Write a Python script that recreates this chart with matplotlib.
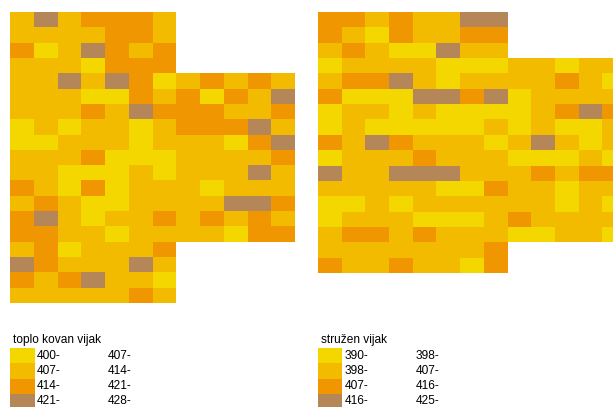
import numpy as np
import matplotlib
matplotlib.use('Agg')
import matplotlib.pyplot as plt
from matplotlib.colors import ListedColormap

plt.rcParams['font.family'] = ['Liberation Sans', 'DejaVu Sans']

W, H = 613, 407

# class index per cell, 0 = lowest class, rows from the top
left_cells = [
    [1, 3, 1, 2, 2, 2, 1],
    [1, 1, 1, 1, 2, 2, 1],
    [2, 0, 1, 3, 2, 1, 2],
    [1, 1, 1, 0, 2, 2, 2],
    [1, 1, 3, 1, 3, 2, 0, 1, 2, 1, 2, 1],
    [1, 1, 1, 0, 0, 2, 1, 2, 0, 2, 1, 3],
    [1, 1, 1, 2, 1, 3, 2, 2, 2, 1, 1, 2],
    [0, 1, 0, 1, 1, 0, 1, 2, 2, 2, 3, 1],
    [0, 0, 1, 1, 1, 0, 1, 1, 1, 0, 2, 3],
    [1, 1, 1, 2, 0, 0, 0, 1, 1, 1, 1, 2],
    [1, 1, 0, 0, 0, 1, 0, 1, 1, 1, 3, 1],
    [2, 1, 0, 2, 0, 1, 1, 1, 0, 1, 1, 1],
    [1, 2, 1, 0, 0, 1, 1, 1, 1, 3, 3, 2],
    [2, 3, 1, 0, 1, 1, 2, 1, 2, 1, 2, 1],
    [2, 2, 1, 1, 0, 1, 1, 1, 1, 0, 2, 2],
    [1, 2, 0, 1, 1, 1, 2],
    [3, 2, 1, 1, 1, 3, 1],
    [2, 1, 2, 3, 1, 1, 0],
    [1, 1, 1, 1, 1, 2, 1],
]
right_cells = [
    [2, 2, 1, 2, 1, 1, 3, 3],
    [2, 1, 0, 2, 1, 1, 2, 2],
    [1, 2, 1, 0, 0, 3, 1, 1],
    [0, 1, 1, 1, 1, 0, 0, 0, 1, 1, 0, 1, 1],
    [1, 2, 2, 3, 1, 0, 1, 1, 1, 1, 2, 1, 0],
    [2, 0, 0, 0, 3, 3, 2, 3, 0, 1, 1, 1, 1],
    [0, 1, 1, 0, 1, 0, 0, 0, 0, 1, 2, 3, 2],
    [0, 1, 0, 0, 0, 0, 0, 1, 0, 1, 0, 0, 1],
    [2, 1, 3, 2, 1, 1, 1, 0, 1, 3, 1, 0, 1],
    [0, 1, 1, 1, 2, 1, 1, 1, 0, 0, 0, 1, 0],
    [3, 1, 1, 3, 3, 3, 1, 1, 1, 2, 1, 2, 2],
    [1, 1, 1, 1, 1, 0, 0, 2, 1, 1, 0, 1, 1],
    [0, 0, 1, 0, 1, 1, 1, 1, 1, 1, 0, 1, 0],
    [0, 1, 1, 1, 0, 0, 0, 1, 2, 1, 1, 1, 1],
    [1, 2, 2, 1, 2, 1, 1, 1, 0, 0, 1, 1, 0],
    [1, 1, 1, 1, 1, 1, 1, 2],
    [2, 1, 1, 2, 1, 1, 0, 2],
]

colors = ['#F5D700', '#F3BB00', '#F09600', '#B58758']

left_title = 'toplo kovan vijak'
left_from = ['400-', '407-', '414-', '421-']
left_to = ['407-', '414-', '421-', '428-']

right_title = 'stru\u017een vijak'
right_from = ['390-', '398-', '407-', '416-']
right_to = ['398-', '407-', '416-', '425-']

cmap = ListedColormap(colors)
cmap.set_bad((1, 1, 1, 0))


def pixelAxes(fig, x0, y0, x1, y1):
    # pixel box measured from the top left of the picture
    ax = fig.add_axes([x0 / W, 1 - y1 / H, (x1 - x0) / W, (y1 - y0) / H])
    ax.axis('off')
    return ax


def drawMap(fig, cells, box):
    ncols = max(len(r) for r in cells)
    grid = np.full((len(cells), ncols), np.nan)
    for i, row in enumerate(cells):
        grid[i, :len(row)] = row
    ax = pixelAxes(fig, *box)
    ax.pcolormesh(np.ma.masked_invalid(grid), cmap=cmap, vmin=-0.5, vmax=3.5, antialiased=False)
    ax.invert_yaxis()


def drawLegend(fig, title, lows, highs, swatch, title_x, low_x, high_x):
    ax = pixelAxes(fig, *swatch)
    ax.pcolormesh(np.arange(len(lows)).reshape(-1, 1), cmap=cmap, vmin=-0.5, vmax=3.5, antialiased=False)
    ax.invert_yaxis()
    fig.text(title_x / W, 1 - 340 / H, title, fontsize=8.6, va='center', color='black')
    step = (swatch[3] - swatch[1]) / len(lows)
    for i in range(len(lows)):
        y = swatch[1] + step * (i + 0.5)
        fig.text(low_x / W, 1 - y / H, lows[i], fontsize=8.6, va='center', color='black')
        fig.text(high_x / W, 1 - y / H, highs[i], fontsize=8.6, va='center', color='black')


fig = plt.figure(figsize=(W / 100, H / 100), dpi=100)

drawMap(fig, left_cells, (10, 12, 295, 303))
drawMap(fig, right_cells, (318, 12, 626, 273))

drawLegend(fig, left_title, left_from, left_to, (10, 348, 35, 409), 13, 36.5, 107.5)
drawLegend(fig, right_title, right_from, right_to, (318, 348, 342, 409), 321, 345, 416)

fig.savefig('out.png', dpi=100)
